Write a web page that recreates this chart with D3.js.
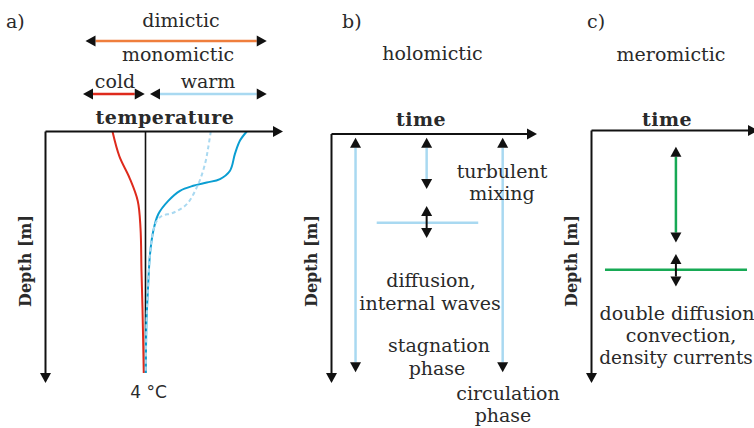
<!DOCTYPE html>
<html>
<head>
<meta charset="utf-8">
<script src="https://cdn.jsdelivr.net/npm/d3@7"></script>
<style>
  body { margin: 0; background: #fff; }
  text { font-family: "DejaVu Serif", "Liberation Serif", serif; fill: #2a2a2a; }
</style>
</head>
<body>
<div id="chart"></div>
<script>
// ---- panel a: temperature profiles, [temperature, depth] ----
const coldProfile = [[2.68, 0], [2.96, 10], [3.36, 18.4], [3.69, 27.6], [3.8, 38.4], [3.84, 55.6], [3.88, 70.4], [3.93, 96]]
const warmProfile = [[8.05, 0], [7.78, 3.6], [7.58, 8.8], [7.38, 15.6], [6.98, 18.9], [6.45, 20.3], [5.91, 21.6],
  [5.38, 23.6], [4.91, 27.6], [4.51, 32.9], [4.31, 39.6], [4.18, 48.8], [4.1, 62.4], [4.04, 75.6], [4.01, 96]]
const warmDashed = [[6.61, 0], [6.51, 6.3], [6.38, 12.9], [6.11, 20.9], [5.65, 28.9], [5.11, 32.3], [4.65, 33.6],
  [4.45, 35.6], [4.31, 39.6], [4.18, 48.8], [4.1, 62.4], [4.04, 75.6], [4.01, 96]]
const maxDensityTemp = 4
const maxDensityDepth = 96

// temperature ranges above panel a
const rangeNames = ['dimictic', 'cold', 'warm']
const rangeFrom = [1.6, 1.5, 4.18]
const rangeTo = [8.85, 3.97, 8.85]

// ---- panel b: holomictic, [time, depth from, depth to] ----
const holoArrows = [[1.17, 1.5, 95.7], [4.63, 1.5, 22.1], [8.33, 1.5, 95.7]]
const holoLayer = { depth: 35.6, from: 2.2, to: 7.14 }
const holoExchange = [4.63, 28.9, 41.8]

// ---- panel c: meromictic ----
const meroArrows = [[5.07, 6.4, 44.4]]
const meroLayer = { depth: 55.1, from: 0.81, to: 9.34 }
const meroExchange = [5.07, 48.9, 61.8]

const panelLabels = ['a)', 'b)', 'c)']
const titles = ['holomictic', 'meromictic']

const colors = {
  axis: '#111', dimictic: '#ef7e3d', cold: '#de2a1c', warm: '#a9d9f1',
  warmLine: '#0a9ed2', dashed: '#a9d9f1', light: '#a9d9f1', green: '#17a955'
}

const W = 754, H = 428
const svg = d3.select('#chart').append('svg')
  .attr('width', W)
  .attr('height', H)
svg.append('rect').attr('width', W).attr('height', H).attr('fill', '#fff')

const headLen = 10
const headHalf = 5.5

// line with triangular black heads
function arrow (g, x1, y1, x2, y2, color, width, start, end) {
  const len = Math.hypot(x2 - x1, y2 - y1)
  const ux = (x2 - x1) / len
  const uy = (y2 - y1) / len
  g.append('line')
    .attr('x1', start ? x1 + ux * headLen : x1)
    .attr('y1', start ? y1 + uy * headLen : y1)
    .attr('x2', end ? x2 - ux * headLen : x2)
    .attr('y2', end ? y2 - uy * headLen : y2)
    .attr('stroke', color)
    .attr('stroke-width', width)
  const tri = (tx, ty, dx, dy) => {
    const bx = tx - dx * headLen
    const by = ty - dy * headLen
    g.append('path')
      .attr('d', 'M' + tx + ',' + ty + 'L' + (bx - dy * headHalf) + ',' + (by + dx * headHalf) +
        'L' + (bx + dy * headHalf) + ',' + (by - dx * headHalf) + 'Z')
      .attr('fill', colors.axis)
  }
  if (start) tri(x1, y1, -ux, -uy)
  if (end) tri(x2, y2, ux, uy)
}

function label (str, x, y, opts = {}) {
  const t = svg.append('text')
    .attr('x', x)
    .attr('y', y)
    .attr('text-anchor', opts.anchor || 'middle')
    .attr('font-size', opts.size || 19)
    .text(str)
  if (opts.bold) t.attr('font-weight', 'bold')
  if (opts.spacing) t.attr('letter-spacing', opts.spacing)
  if (opts.sans) t.style('font-family', '"DejaVu Sans", "Liberation Sans", Arial, sans-serif')
  return t
}

function depthLabel (x) {
  svg.append('text')
    .attr('transform', 'translate(' + x + ',261) rotate(-90)')
    .attr('text-anchor', 'middle')
    .attr('font-size', 16)
    .attr('font-weight', 'bold')
    .text('Depth [m]')
}

// ================= panel a =================
const temp = d3.scaleLinear().domain([0, 9.5]).range([45.5, 283])
const depthA = d3.scaleLinear().domain([0, 100]).range([131.5, 383])
const ga = svg.append('g')

// range arrows
const rangeY = [41, 94, 94]
const rangeColor = [colors.dimictic, colors.cold, colors.warm]
rangeNames.forEach((n, i) => {
  arrow(ga, temp(rangeFrom[i]), rangeY[i], temp(rangeTo[i]), rangeY[i], rangeColor[i], 2.5, true, true)
})

ga.append('line')
  .attr('x1', temp(maxDensityTemp)).attr('x2', temp(maxDensityTemp))
  .attr('y1', depthA(0)).attr('y2', depthA(maxDensityDepth))
  .attr('stroke', colors.axis)
  .attr('stroke-width', 1.6)

const profLine = d3.line()
  .x(d => temp(d[0]))
  .y(d => depthA(d[1]))
  .curve(d3.curveCatmullRom.alpha(0.5))

ga.append('path').datum(coldProfile)
  .attr('d', profLine).attr('fill', 'none')
  .attr('stroke', colors.cold).attr('stroke-width', 2)
ga.append('path').datum(warmProfile)
  .attr('d', profLine).attr('fill', 'none')
  .attr('stroke', colors.warmLine).attr('stroke-width', 2)
ga.append('path').datum(warmDashed)
  .attr('d', profLine).attr('fill', 'none')
  .attr('stroke', colors.dashed).attr('stroke-width', 2)
  .attr('stroke-dasharray', '4,3')

arrow(ga, temp(0), depthA(0), temp(9.5), depthA(0), colors.axis, 2, false, true)
arrow(ga, temp(0), depthA(0), temp(0), depthA(100), colors.axis, 2, false, true)

label(panelLabels[0], 6, 28, { anchor: 'start' })
label(rangeNames[0], 181, 27)
label('monomictic', 178, 61)
label(rangeNames[1], 115, 88)
label(rangeNames[2], 208, 88)
label('temperature', 165, 124, { bold: true, spacing: 0.5 })
label('4 °C', 148.5, 398, { sans: true, size: 17 })
depthLabel(31)

// ================= panel b =================
const timeB = d3.scaleLinear().domain([0, 10]).range([331.5, 537])
const depthB = d3.scaleLinear().domain([0, 100]).range([134, 383])
const gb = svg.append('g')

gb.append('line')
  .attr('x1', timeB(holoLayer.from)).attr('x2', timeB(holoLayer.to))
  .attr('y1', depthB(holoLayer.depth)).attr('y2', depthB(holoLayer.depth))
  .attr('stroke', colors.light).attr('stroke-width', 2.5)
holoArrows.forEach(d => {
  arrow(gb, timeB(d[0]), depthB(d[1]), timeB(d[0]), depthB(d[2]), colors.light, 2.5, true, true)
})
arrow(gb, timeB(holoExchange[0]), depthB(holoExchange[1]), timeB(holoExchange[0]), depthB(holoExchange[2]), colors.axis, 2, true, true)

arrow(gb, timeB(0), depthB(0), timeB(10), depthB(0), colors.axis, 2, false, true)
arrow(gb, timeB(0), depthB(0), timeB(0), depthB(100), colors.axis, 2, false, true)

label(panelLabels[1], 342, 28, { anchor: 'start' })
label(titles[0], 432.5, 60)
label('time', 421, 126, { bold: true, spacing: 0.5 })
label('turbulent', 502, 178)
label('mixing', 502, 200)
label('diffusion,', 431, 287)
label('internal waves', 430, 310)
label('stagnation', 439, 352)
label('phase', 437, 375)
label('circulation', 508, 400)
label('phase', 503, 422)
depthLabel(317)

// ================= panel c =================
const timeC = d3.scaleLinear().domain([0, 10]).range([591.5, 758])
const depthC = d3.scaleLinear().domain([0, 100]).range([130.5, 383])
const gc = svg.append('g')

gc.append('line')
  .attr('x1', timeC(meroLayer.from)).attr('x2', timeC(meroLayer.to))
  .attr('y1', depthC(meroLayer.depth)).attr('y2', depthC(meroLayer.depth))
  .attr('stroke', colors.green).attr('stroke-width', 2.5)
meroArrows.forEach(d => {
  arrow(gc, timeC(d[0]), depthC(d[1]), timeC(d[0]), depthC(d[2]), colors.green, 2.5, true, true)
})
arrow(gc, timeC(meroExchange[0]), depthC(meroExchange[1]), timeC(meroExchange[0]), depthC(meroExchange[2]), colors.axis, 2, true, true)

arrow(gc, timeC(0), depthC(0), timeC(10), depthC(0), colors.axis, 2, false, true)
arrow(gc, timeC(0), depthC(0), timeC(0), depthC(100), colors.axis, 2, false, true)

label(panelLabels[2], 587, 28, { anchor: 'start' })
label(titles[1], 671, 61)
label('time', 667, 126, { bold: true, spacing: 0.5 })
label('double diffusion', 677, 320)
label('convection,', 681, 342)
label('density currents', 676, 364, { size: 18.5 })
depthLabel(577)
</script>
</body>
</html>
